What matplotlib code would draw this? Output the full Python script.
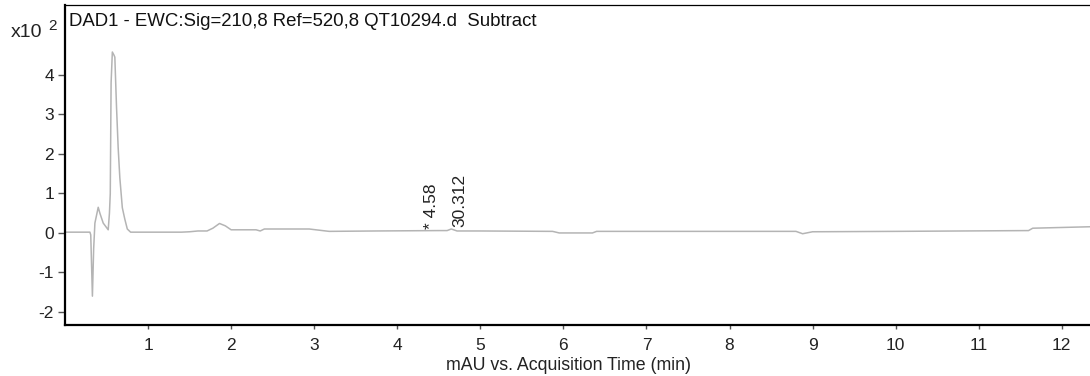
import matplotlib.pyplot as plt

plt.rcParams['font.family'] = ['Liberation Sans', 'DejaVu Sans']
plt.rcParams['axes.unicode_minus'] = False

# chromatogram trace (time in min, signal in x10^2 mAU)
time = [0.0, 0.30, 0.31, 0.33, 0.345, 0.36, 0.40, 0.42, 0.46, 0.52, 0.535,
        0.545, 0.555, 0.57, 0.59, 0.60, 0.62, 0.64, 0.66, 0.69, 0.72, 0.75,
        0.79, 1.0, 1.4, 1.5, 1.6, 1.71, 1.78, 1.86, 1.93, 2.0, 2.3, 2.35,
        2.4, 2.94, 3.18, 3.74, 4.5, 4.6, 4.65, 4.72, 5.0, 5.87, 5.95, 6.35,
        6.4, 8.8, 8.88, 9.0, 10.0, 11.6, 11.65, 12.4]
signal = [0.02, 0.02, -0.05, -1.6, -0.4, 0.25, 0.65, 0.5, 0.25, 0.08, 0.5,
          1.0, 3.8, 4.58, 4.5, 4.45, 3.2, 2.16, 1.4, 0.64, 0.35, 0.1,
          0.02, 0.02, 0.02, 0.03, 0.05, 0.05, 0.12, 0.24, 0.18, 0.08, 0.08,
          0.05, 0.1, 0.1, 0.04, 0.05, 0.06, 0.06, 0.1, 0.05, 0.05, 0.04, 0.0,
          0.0, 0.04, 0.04, -0.02, 0.03, 0.04, 0.06, 0.12, 0.16]

x_ticks = list(range(1, 13))
y_ticks = [-2, -1, 0, 1, 2, 3, 4]
peak_rt = "* 4.58"
peak_area = "30.312"
title = "DAD1 - EWC:Sig=210,8 Ref=520,8 QT10294.d  Subtract"

fig = plt.figure(figsize=(10.9, 3.76), dpi=100)
ax = fig.add_axes([65 / 1090, 51 / 376, 1030 / 1090, 320 / 376])

ax.plot(time, signal, color="#b4b4b4", linewidth=1.1)

ax.set_xlim(0, 12.4)
ax.set_ylim(-2.33, 5.77)
ax.set_xticks(x_ticks)
ax.set_yticks(y_ticks)
ax.tick_params(direction="out", width=1, colors="#555555",
               labelcolor="#222222", labelsize=12.5)
ax.tick_params(axis="x", length=3, pad=6)
ax.tick_params(axis="y", length=5, pad=3)

ax.spines["right"].set_visible(False)
ax.spines["top"].set_linewidth(0.9)
ax.spines["left"].set_linewidth(1.6)
ax.spines["bottom"].set_linewidth(1.6)

ax.text(0.004, 0.975, title, transform=ax.transAxes, ha="left", va="top",
        fontsize=13.4, color="#111111")
ax.text(4.41, 0.1, peak_rt, rotation=90, ha="center", va="bottom",
        fontsize=12.5, color="#222222")
ax.text(4.75, 0.15, peak_area, rotation=90, ha="center", va="bottom",
        fontsize=12.5, color="#222222")

ax.set_xlabel("mAU vs. Acquisition Time (min)", fontsize=12.8,
              color="#222222")
ax.xaxis.set_label_coords((568 - 65) / 1030, -(366 - 325) / 320)
ax.xaxis.label.set_va("center")

# axis multiplier label at the top left
fig.text(11 / 1090, 1 - 37 / 376, "x10", fontsize=14, color="#222222")
fig.text(48 / 1090, 1 - 30 / 376, "2", fontsize=11, color="#222222")

fig.savefig("out.png", dpi=100)
